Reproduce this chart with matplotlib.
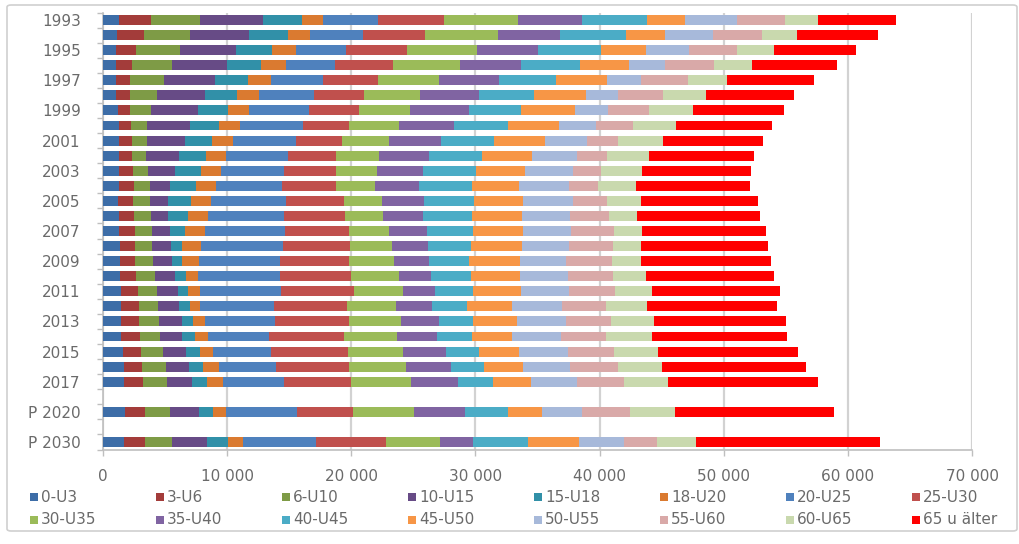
import matplotlib

matplotlib.use("Agg")
import matplotlib.pyplot as plt
from matplotlib.patches import Rectangle, FancyBboxPatch
from matplotlib.ticker import FuncFormatter, MultipleLocator

# Row labels (1993..2017 yearly, then two projections)
years = [str(y) for y in range(1993, 2018)] + ["P 2020", "P 2030"]

age_groups = [
    "0-U3", "3-U6", "6-U10", "10-U15", "15-U18", "18-U20", "20-U25", "25-U30",
    "30-U35", "35-U40", "40-U45", "45-U50", "50-U55", "55-U60", "60-U65", "65 u älter",
]

# Persons per age group and year (same order as `years`)
g_0_3 = [1290, 1130, 1020, 1080, 1080, 1080, 1210, 1260, 1260, 1260, 1260, 1260, 1210, 1260,
         1260, 1340, 1340, 1400, 1480, 1480, 1480, 1480, 1610, 1670, 1690, 1750, 1690]
g_3_6 = [2610, 2150, 1610, 1290, 1070, 1070, 1000, 1020, 1070, 1070, 1150, 1230, 1210, 1230,
         1290, 1210, 1210, 1290, 1340, 1390, 1420, 1470, 1480, 1510, 1530, 1670, 1670]
g_6_10 = [3890, 3760, 3540, 3220, 2740, 2200, 1690, 1290, 1240, 1160, 1210, 1260, 1400, 1400,
          1420, 1420, 1470, 1530, 1530, 1550, 1610, 1610, 1740, 1870, 1930, 2010, 2230]
g_10_15 = [5090, 4720, 4510, 4430, 4100, 3890, 3750, 3460, 3000, 2600, 2150, 1670, 1420, 1340,
           1450, 1530, 1560, 1550, 1690, 1690, 1850, 1830, 1830, 1880, 2010, 2280, 2780]
g_15_18 = [3170, 3170, 2950, 2740, 2680, 2540, 2410, 2300, 2230, 2230, 2150, 2090, 1880, 1610,
           1150, 890, 810, 890, 800, 860, 890, 1050, 1130, 1130, 1210, 1130, 1690]
g_18_20 = [1710, 1770, 1930, 1960, 1880, 1770, 1690, 1720, 1660, 1610, 1610, 1610, 1610, 1610,
           1610, 1530, 1340, 990, 1000, 810, 940, 1010, 1070, 1290, 1290, 1100, 1210]
g_20_25 = [4420, 4230, 4020, 3940, 4210, 4480, 4880, 5040, 5100, 4990, 5090, 5280, 5980, 6170,
           6520, 6570, 6490, 6630, 6520, 6030, 5630, 4960, 4700, 4560, 4880, 5710, 5910]
g_25_30 = [5310, 5020, 4910, 4690, 4370, 4020, 3970, 3760, 3670, 3810, 4160, 4380, 4670, 4880,
           5090, 5370, 5630, 5710, 5840, 5820, 5980, 6030, 6160, 5900, 5450, 4470, 5580]
g_30_35 = [5900, 5840, 5600, 5370, 4910, 4480, 4140, 3970, 3780, 3540, 3300, 3160, 3060, 3080,
           3220, 3440, 3620, 3830, 3940, 3970, 4220, 4210, 4480, 4620, 4830, 4960, 4400]
g_35_40 = [5180, 5020, 4990, 4960, 4880, 4770, 4720, 4480, 4220, 3970, 3720, 3480, 3380, 3220,
           3090, 2870, 2760, 2610, 2630, 2900, 3030, 3250, 3440, 3620, 3750, 4100, 2620]
g_40_45 = [5230, 5310, 5070, 4770, 4560, 4430, 4220, 4290, 4290, 4260, 4240, 4300, 4100, 3920,
           3730, 3490, 3270, 3220, 3060, 2860, 2790, 2820, 2680, 2680, 2820, 3480, 4430]
g_45_50 = [3060, 3140, 3570, 3940, 4100, 4210, 4310, 4160, 4100, 4020, 3970, 3810, 3940, 4020,
           4020, 4100, 4080, 3940, 3840, 3620, 3480, 3220, 3160, 3080, 3090, 2690, 4100]
g_50_55 = [4180, 3890, 3480, 2900, 2740, 2570, 2660, 2950, 3400, 3700, 3860, 4020, 3970, 3890,
           3840, 3750, 3700, 3830, 3830, 3970, 3970, 3990, 4000, 3810, 3700, 3220, 3620]
g_55_60 = [3860, 3970, 3890, 3940, 3830, 3620, 3300, 3000, 2490, 2410, 2280, 2360, 2740, 3140,
           3480, 3600, 3750, 3700, 3760, 3590, 3620, 3620, 3700, 3830, 3810, 3890, 2660]
g_60_65 = [2700, 2820, 2950, 3080, 3140, 3410, 3540, 3480, 3600, 3350, 3300, 3010, 2770, 2280,
           2230, 2230, 2280, 2610, 2950, 3300, 3480, 3650, 3560, 3570, 3560, 3620, 3170]
g_65_plus = [6310, 6490, 6650, 6840, 7000, 7130, 7380, 7680, 8070, 8470, 8770, 9170, 9460, 9870,
             9980, 10240, 10460, 10350, 10300, 10460, 10600, 10910, 11260, 11590, 12070, 12790, 14830]

series = [g_0_3, g_3_6, g_6_10, g_10_15, g_15_18, g_18_20, g_20_25, g_25_30,
          g_30_35, g_35_40, g_40_45, g_45_50, g_50_55, g_55_60, g_60_65, g_65_plus]

colors = [
    "#3D6DA7", "#A33C3A", "#7E9B46", "#674B86", "#3190A8", "#DA7A30",
    "#4F81BD", "#C0504D", "#9BBB59", "#8064A2", "#4BACC6", "#F79646",
    "#A7B9DA", "#D9A9A8", "#C9D9AE", "#FF0000",
]

TEXT = "#6A6A6A"
GRID = "#D2D2D2"

# yearly rows sit back to back, the projections leave an empty slot before each
ypos = list(range(25)) + [26, 28]
slots = 29

fig = plt.figure(figsize=(10.19, 5.44), dpi=100)
W, H = 1019, 544

# outer chart frame
fig.add_artist(FancyBboxPatch((7 / W, 1 - 531 / H), (1017 - 7) / W, (531 - 5) / H,
                              boxstyle="round,pad=0,rounding_size=0.004",
                              transform=fig.transFigure, fill=False,
                              edgecolor="#D0D0D0", linewidth=1.2))

ax = fig.add_axes([103 / W, 1 - 449.5 / H, (972 - 103) / W, (449.5 - 12.5) / H])

left = [0] * len(years)
for vals, col in zip(series, colors):
    ax.barh(ypos, vals, left=left, height=0.66, color=col, linewidth=0, zorder=3)
    left = [a + b for a, b in zip(left, vals)]

ax.set_xlim(0, 70000)
ax.set_ylim(slots - 0.5, -0.5)

ax.xaxis.set_major_locator(MultipleLocator(10000))
ax.xaxis.set_major_formatter(FuncFormatter(lambda v, _: f"{int(v):,}".replace(",", " ")))
ax.grid(axis="x", color=GRID, linewidth=1.6, zorder=0)

# every second category gets a label
labels_at = list(range(0, slots, 2))
slot_labels = {p: y for p, y in zip(ypos, years)}
ax.set_yticks(labels_at)
ax.set_yticklabels([slot_labels[p] for p in labels_at])
ax.set_yticks([i + 0.5 for i in range(-1, slots)], minor=True)

ax.tick_params(axis="y", which="major", length=0, pad=16, labelsize=11, labelcolor=TEXT)
ax.tick_params(axis="y", which="minor", length=4, width=1, color="#BFBFBF", direction="out")
ax.tick_params(axis="x", length=4, width=1, color="#BFBFBF", pad=10, labelsize=11, labelcolor=TEXT)

for side in ["top", "right"]:
    ax.spines[side].set_visible(False)
for side in ["left", "bottom"]:
    ax.spines[side].set_color("#BFBFBF")
    ax.spines[side].set_linewidth(1.2)

# legend: 8 equal-width columns, filled row by row
col_x0, col_w = 30, 126
row_y = [497, 519.5]
for k, (name, col) in enumerate(zip(age_groups, colors)):
    cx = col_x0 + (k % 8) * col_w
    cy = row_y[k // 8]
    fig.add_artist(Rectangle((cx / W, 1 - (cy + 4) / H), 8 / W, 8 / H,
                             transform=fig.transFigure, facecolor=col, edgecolor="none"))
    fig.text((cx + 11) / W, 1 - cy / H, name, fontsize=11, color=TEXT,
             ha="left", va="center")

fig.savefig("out.png", dpi=100)
